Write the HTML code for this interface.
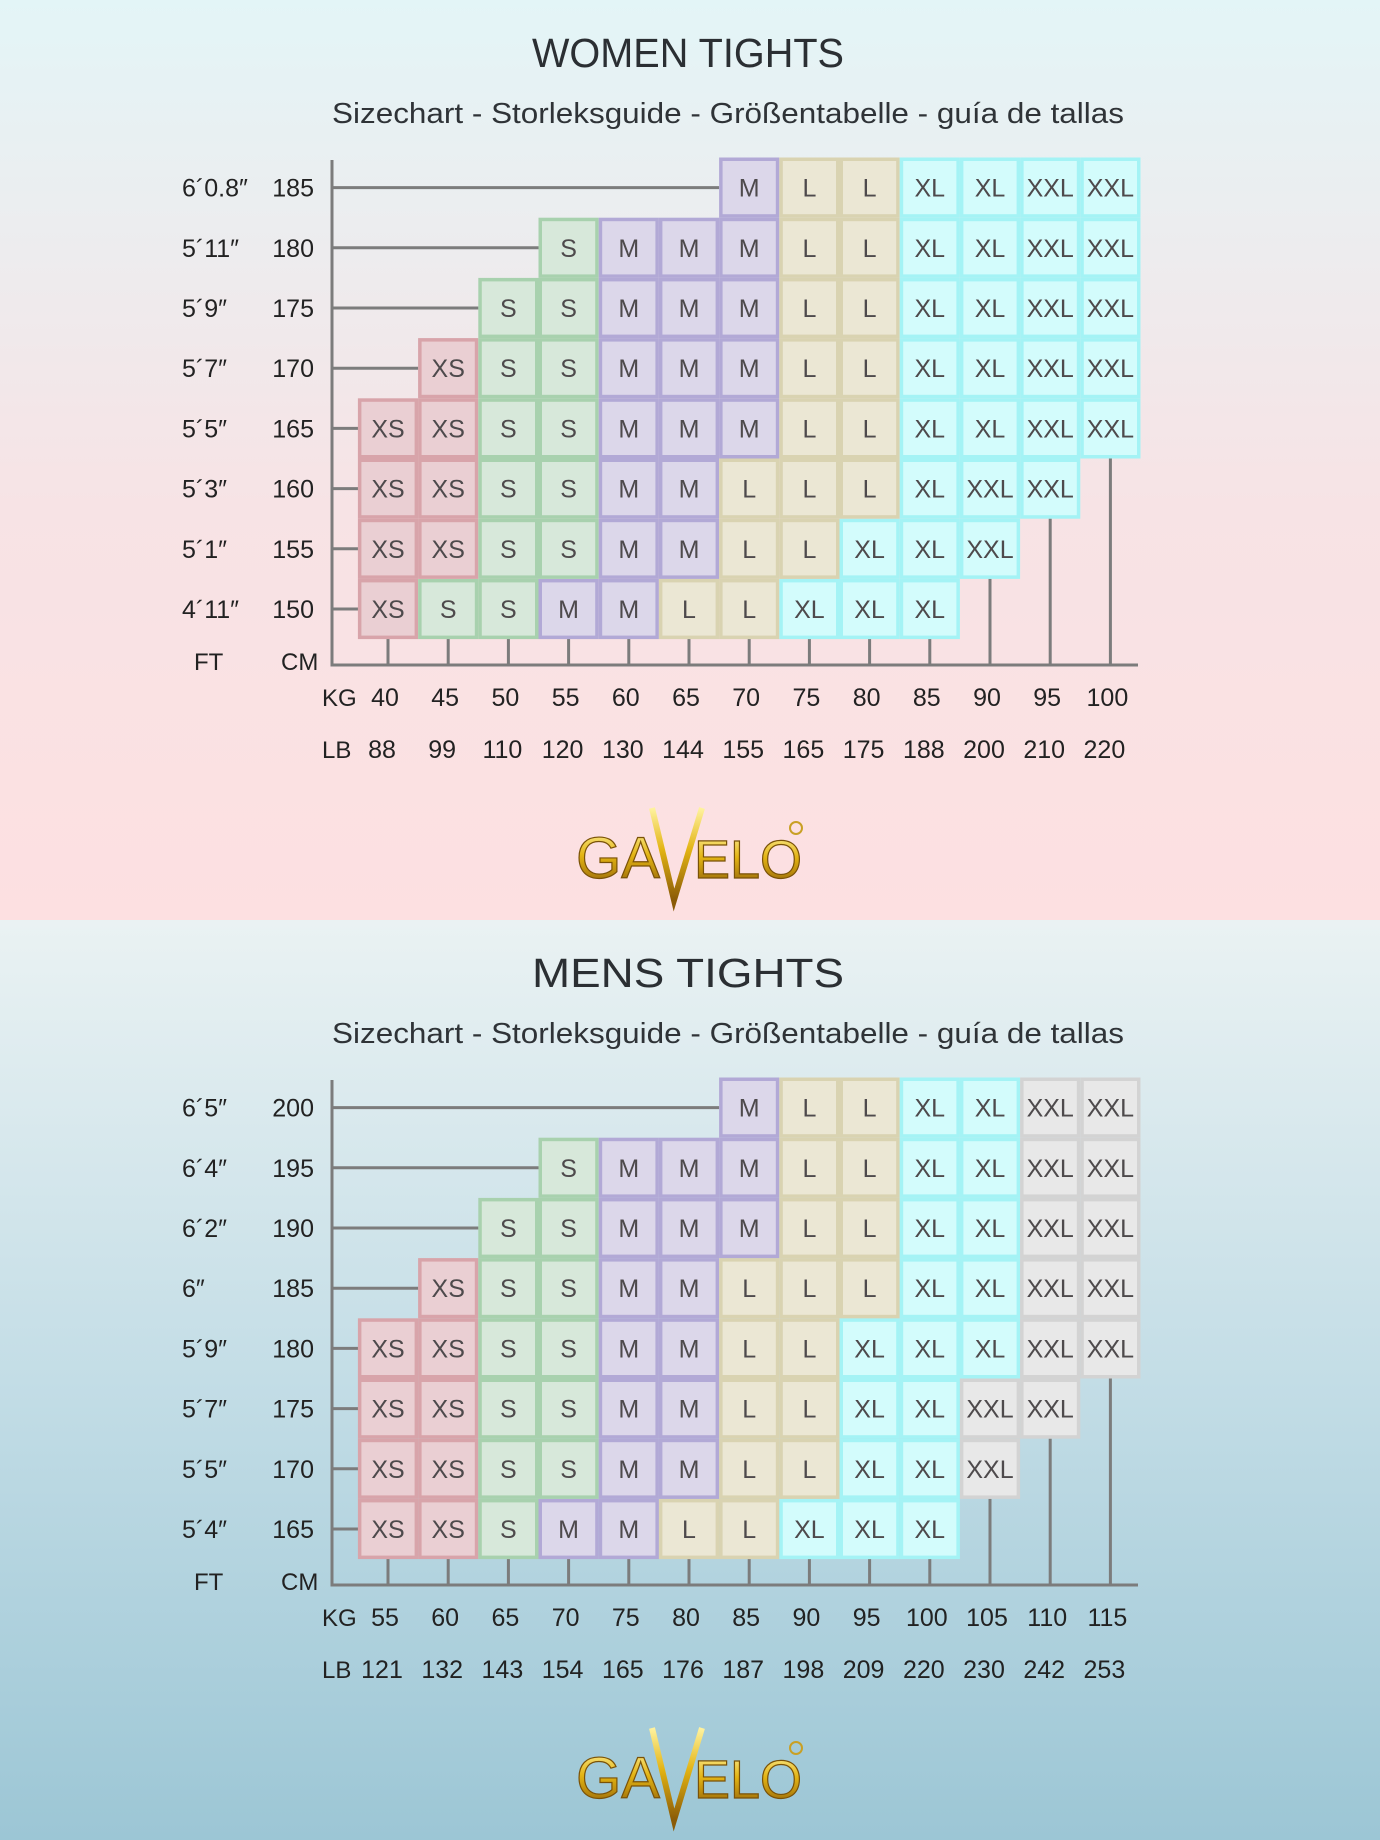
<!DOCTYPE html>
<html><head><meta charset="utf-8">
<style>
html,body{margin:0;padding:0;width:1380px;height:1840px;overflow:hidden}
svg{display:block}
text{font-family:"Liberation Sans",sans-serif}
</style></head>
<body>
<svg id="chart" width="1380" height="1840" viewBox="0 0 1380 1840" xmlns="http://www.w3.org/2000/svg">
<defs>
<linearGradient id="bgW" x1="0" y1="0" x2="0" y2="1"><stop offset="0" stop-color="#e3f5f7"/><stop offset="0.55" stop-color="#f7e3e5"/><stop offset="1" stop-color="#fde0e1"/></linearGradient>
<linearGradient id="bgM" x1="0" y1="0" x2="0" y2="1"><stop offset="0" stop-color="#eaf2f3"/><stop offset="0.5" stop-color="#c3dde6"/><stop offset="1" stop-color="#9cc6d5"/></linearGradient>
<linearGradient id="gold" x1="0" y1="0" x2="0" y2="1"><stop offset="0" stop-color="#fff3a0"/><stop offset="0.45" stop-color="#e3b414"/><stop offset="1" stop-color="#8a5a06"/></linearGradient>
</defs>
<rect x="0" y="0" width="1380" height="920" fill="url(#bgW)"/>
<rect x="0" y="920" width="1380" height="920" fill="url(#bgM)"/>
</svg>
<script>
// Women chart data
const womenHeightsCm = [150,155,160,165,170,175,180,185];
const womenHeightsFt = ["4´11″","5´1″","5´3″","5´5″","5´7″","5´9″","5´11″","6´0.8″"];
const womenKg = [40,45,50,55,60,65,70,75,80,85,90,95,100];
const womenLb = [88,99,110,120,130,144,155,165,175,188,200,210,220];
const womenSizes = [
 ["XS","S","S","M","M","L","L","XL","XL","XL","","",""],
 ["XS","XS","S","S","M","M","L","L","XL","XL","XXL","",""],
 ["XS","XS","S","S","M","M","L","L","L","XL","XXL","XXL",""],
 ["XS","XS","S","S","M","M","M","L","L","XL","XL","XXL","XXL"],
 ["","XS","S","S","M","M","M","L","L","XL","XL","XXL","XXL"],
 ["","","S","S","M","M","M","L","L","XL","XL","XXL","XXL"],
 ["","","","S","M","M","M","L","L","XL","XL","XXL","XXL"],
 ["","","","","","","M","L","L","XL","XL","XXL","XXL"]
];
// Men chart data
const menHeightsCm = [165,170,175,180,185,190,195,200];
const menHeightsFt = ["5´4″","5´5″","5´7″","5´9″","6″","6´2″","6´4″","6´5″"];
const menKg = [55,60,65,70,75,80,85,90,95,100,105,110,115];
const menLb = [121,132,143,154,165,176,187,198,209,220,230,242,253];
const menSizes = [
 ["XS","XS","S","M","M","L","L","XL","XL","XL","","",""],
 ["XS","XS","S","S","M","M","L","L","XL","XL","XXL","",""],
 ["XS","XS","S","S","M","M","L","L","XL","XL","XXL","XXL",""],
 ["XS","XS","S","S","M","M","L","L","XL","XL","XL","XXL","XXL"],
 ["","XS","S","S","M","M","L","L","L","XL","XL","XXL","XXL"],
 ["","","S","S","M","M","M","L","L","XL","XL","XXL","XXL"],
 ["","","","S","M","M","M","L","L","XL","XL","XXL","XXL"],
 ["","","","","","","M","L","L","XL","XL","XXL","XXL"]
];

const NS="http://www.w3.org/2000/svg";
const svg=document.getElementById('chart');
function mk(tag,attrs,parent){const e=document.createElementNS(NS,tag);for(const k in attrs)e.setAttribute(k,attrs[k]);(parent||svg).appendChild(e);return e;}
function txt(s,attrs,parent){const e=mk('text',attrs,parent);e.textContent=s;return e;}

const PITCH=60.2, COL0=388, AXX=332, TOPAXIS=160;
function xScale(i){return COL0+PITCH*i;}
function yScale(j,off){return off+609-PITCH*j;}

function drawPanel(off,title,cm,ft,kg,lb,sizes,xxlGrey,key){
  const g=mk('g',{});
  
  
  const styles={XS:['#d8a4aa','#eacfd3'],S:['#a8d1ae','#d7e8da'],M:['#b2a9d6','#dcd7ea'],L:['#d9d3b1','#ebe7d4'],XL:['#a4f3f5','#d3fcfc'],XXL:xxlGrey?['#d3d3d3','#e8e8e8']:['#a4f3f5','#d3fcfc']};
  let t=txt(title,{x:688,y:off+67,'text-anchor':'middle','font-size':41,fill:'#2b2f33',textLength:312,lengthAdjust:'spacingAndGlyphs'},g);
  
  
  t=txt('Sizechart - Storleksguide - Größentabelle - guía de tallas',{x:332,y:off+123,'font-size':29,fill:'#2f3337',textLength:792,lengthAdjust:'spacingAndGlyphs'},g);
  
  
  const axisY=off+665;
  const lineCol='#7c7c7c';
  // grid lines
  for(let j=0;j<cm.length;j++){
    const first=sizes[j].findIndex(s=>s!=='');
    const y=yScale(j,off);
    const l=mk('line',{x1:AXX,y1:y,x2:xScale(first)-30,y2:y,stroke:lineCol,'stroke-width':3},g);
    
    
  }
  for(let i=0;i<kg.length;i++){
    let low=0; while(low<sizes.length && sizes[low][i]==='') low++;
    const y1=yScale(low,off)+30;
    const l=mk('line',{x1:xScale(i),y1:y1,x2:xScale(i),y2:axisY,stroke:lineCol,'stroke-width':3},g);
    
    
  }
  let a=mk('line',{x1:AXX,y1:off+TOPAXIS,x2:AXX,y2:axisY+1.5,stroke:lineCol,'stroke-width':3},g);
  
  
  a=mk('line',{x1:AXX,y1:axisY,x2:1138,y2:axisY,stroke:lineCol,'stroke-width':3},g);
  
  
  // cells
  for(let j=0;j<sizes.length;j++)for(let i=0;i<kg.length;i++){
    const s=sizes[j][i]; if(!s) continue;
    const [bc,fc]=styles[s];
    const cx=xScale(i), cy=yScale(j,off);
    const cg=mk('g',{},g);
    
    
    mk('rect',{x:cx-30.1,y:cy-30.1,width:60.2,height:60.2,fill:bc},cg);
    mk('rect',{x:cx-26.6,y:cy-26.6,width:53.2,height:53.2,fill:fc},cg);
    txt(s,{x:cx,y:cy+9,'text-anchor':'middle','font-size':25,fill:'#4e4a4c'},cg);
  }
  // labels
  for(let j=0;j<cm.length;j++){
    const y=yScale(j,off)+9;
    let e=txt(String(cm[j]),{x:314,y:y,'text-anchor':'end','font-size':25,fill:'#222'},g);
    
    
    e=txt(ft[j],{x:182,y:y,'font-size':25,fill:'#222'},g);
    
    
  }
  let e=txt('FT',{x:194,y:off+670,'font-size':24,fill:'#222'},g);
  
  
  e=txt('CM',{x:281,y:off+670,'font-size':24,fill:'#222'},g);
  
  
  e=txt('KG',{x:322,y:off+706,'font-size':24,fill:'#222'},g);
  
  
  e=txt('LB',{x:322,y:off+758,'font-size':24,fill:'#222'},g);
  
  
  for(let i=0;i<kg.length;i++){
    e=txt(String(kg[i]),{x:xScale(i)-3,y:off+706,'text-anchor':'middle','font-size':25,fill:'#222'},g);
    
    
    e=txt(String(lb[i]),{x:xScale(i)-6,y:off+758,'text-anchor':'middle','font-size':25,fill:'#222'},g);
    
    
  }
  // logo
  const lg=mk('g',{},g);
  
  
  txt('GA',{x:618,y:off+878,'text-anchor':'middle','font-size':58,fill:'url(#gold)',stroke:'#7a5208','stroke-width':1.2,'font-family':'Liberation Serif'},lg);
  mk('path',{d:`M652 ${off+808} L674 ${off+900} L702 ${off+808}`,fill:'none',stroke:'url(#gold)','stroke-width':6},lg);
  txt('ELO',{x:748,y:off+878,'text-anchor':'middle','font-size':54,fill:'url(#gold)',stroke:'#7a5208','stroke-width':1.2,'font-family':'Liberation Serif'},lg);
  mk('circle',{cx:796,cy:off+828,r:6,fill:'none',stroke:'#c9a024','stroke-width':2},lg);
}
drawPanel(0,'WOMEN TIGHTS',womenHeightsCm,womenHeightsFt,womenKg,womenLb,womenSizes,false,'women');
drawPanel(920,'MENS TIGHTS',menHeightsCm,menHeightsFt,menKg,menLb,menSizes,true,'men');
</script>
</body></html>
